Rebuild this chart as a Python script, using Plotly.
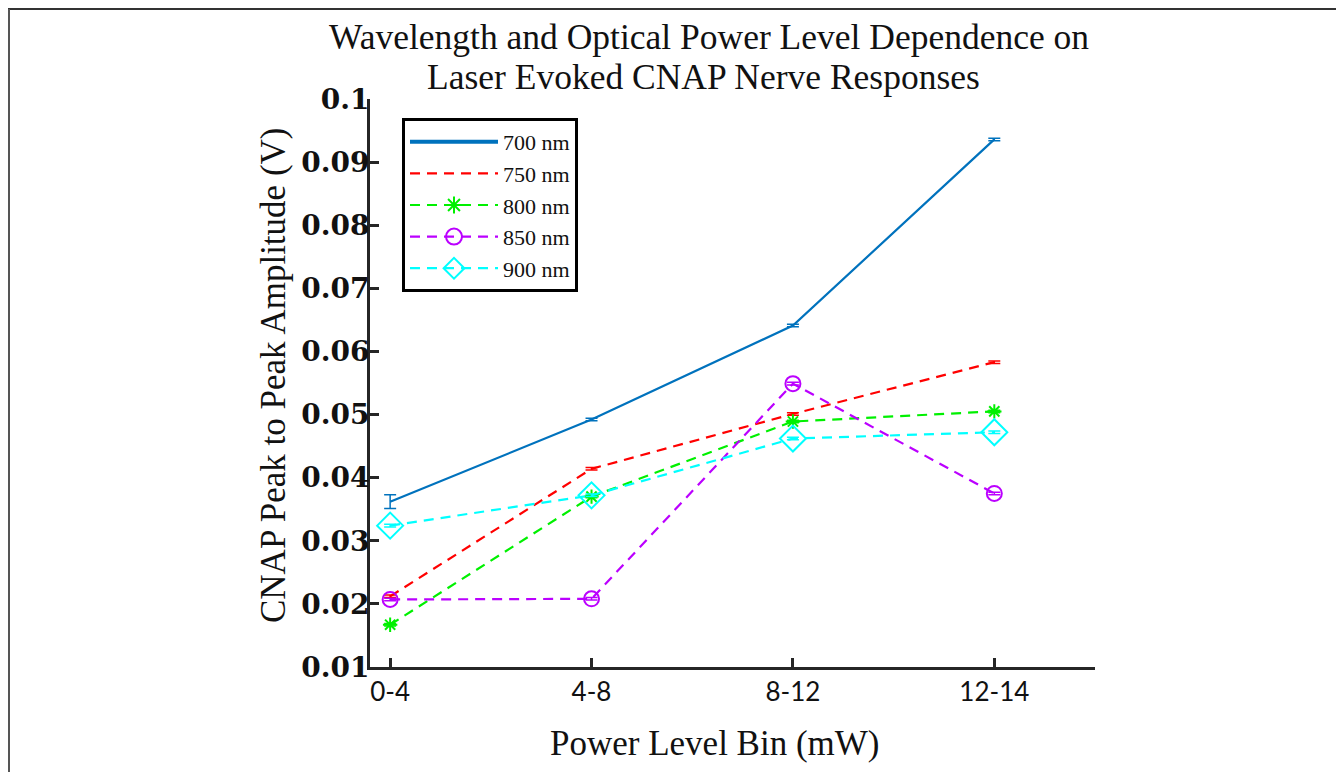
import plotly.graph_objects as go

bins = ["0-4", "4-8", "8-12", "12-14"]
series_names = ["700 nm", "750 nm", "800 nm", "850 nm", "900 nm"]
v700 = [0.0362, 0.0492, 0.0641, 0.0936]
v750 = [0.0212, 0.0414, 0.0501, 0.0583]
v800 = [0.0167, 0.0370, 0.0489, 0.0505]
v850 = [0.0207, 0.0208, 0.0549, 0.0375]
v900 = [0.0324, 0.0372, 0.0462, 0.0472]
e700 = [0.0011, 0.0002, 0.0002, 0.0002]
e750 = [0.0002, 0.0002, 0.0002, 0.0002]
e800 = [0.0002, 0.0002, 0.0002, 0.0002]
e850 = [0.0002, 0.0002, 0.0002, 0.0002]
e900 = [0.0002, 0.0002, 0.0002, 0.0002]
y_ticks = [0.01, 0.02, 0.03, 0.04, 0.05, 0.06, 0.07, 0.08, 0.09, 0.1]
y_tick_text = ["0.01", "0.02", "0.03", "0.04", "0.05", "0.06", "0.07", "0.08", "0.09", "0.1"]
title_lines = ["Wavelength and Optical Power Level Dependence on", "Laser Evoked CNAP Nerve Responses"]
x_title = "Power Level Bin (mW)"
y_title = "CNAP Peak to Peak Amplitude (V)"

W, H = 1344, 772
OFF = 8  # page body margin
ML, MR, MT, MB = 362, 257, 91, 113
PW, PH = W - ML - MR, H - MT - MB
AX = "#262626"
TXT = "#111111"


def sx(p):
    return (p - OFF - ML) / PW


def sy(p):
    return (H - MB - (p - OFF)) / PH


xs = list(range(len(bins)))
styles = [
    (v700, e700, "#0072BD", "solid", None, 0, 4),
    (v750, e750, "#FF0000", "10px,7px", None, 0, 2.2),
    (v800, e800, "#00F000", "10px,7px", "asterisk-open", 12, 2.2),
    (v850, e850, "#BB00FF", "10px,7px", "circle-open", 15, 2.2),
    (v900, e900, "#00FFFF", "10px,7px", "diamond-open", 20, 2.2),
]

fig = go.Figure()
for name, (vals, errs, col, dash, sym, size, lw) in zip(series_names, styles):
    mode = "lines+markers" if sym else "lines"
    kw = {}
    if sym:
        kw["marker"] = dict(symbol=sym, size=size, color=col, line=dict(color=col, width=2))
    fig.add_trace(go.Scatter(
        x=xs, y=vals, name=name, mode=mode, legendgroup=name, showlegend=False,
        line=dict(color=col, width=2.2, dash=dash),
        error_y=dict(type="data", array=errs, visible=True, color=col, thickness=1.5, width=6),
        **kw,
    ))
    # legend-only entry (styled like the reference legend)
    lkw = {}
    if sym:
        lkw["marker"] = dict(symbol=sym, size=size + 2, color=col, line=dict(color=col, width=2))
    fig.add_trace(go.Scatter(
        x=[None], y=[None], name=name, mode=mode, legendgroup=name, showlegend=True,
        line=dict(color=col, width=lw, dash=dash), **lkw,
    ))

shapes = [
    dict(type="line", xref="paper", yref="paper", x0=sx(8), x1=sx(1341), y0=sy(9), y1=sy(9),
         line=dict(color="#333333", width=2)),
    dict(type="line", xref="paper", yref="paper", x0=sx(9), x1=sx(9), y0=sy(9), y1=sy(800),
         line=dict(color="#555555", width=2)),
    dict(type="line", xref="paper", yref="paper", x0=sx(1340), x1=sx(1340), y0=sy(9), y1=sy(800),
         line=dict(color="#333333", width=2)),
]

annotations = [
    dict(text=title_lines[0], xref="paper", yref="paper", x=sx(709), y=sy(37),
         xanchor="center", yanchor="middle", showarrow=False,
         font=dict(family="Liberation Serif", size=35.5, color=TXT)),
    dict(text=title_lines[1], xref="paper", yref="paper", x=sx(703), y=sy(77),
         xanchor="center", yanchor="middle", showarrow=False,
         font=dict(family="Liberation Serif", size=35.5, color=TXT)),
    dict(text=x_title, xref="paper", yref="paper", x=sx(715), y=sy(743),
         xanchor="center", yanchor="middle", showarrow=False,
         font=dict(family="Liberation Serif", size=35, color=TXT)),
    dict(text=y_title, xref="paper", yref="paper", x=sx(273), y=sy(376),
         xanchor="center", yanchor="middle", showarrow=False, textangle=-90,
         font=dict(family="Liberation Serif", size=35, color=TXT)),
]

fig.update_layout(
    width=W, height=H,
    margin=dict(l=ML, r=MR, t=MT, b=MB),
    paper_bgcolor="white", plot_bgcolor="white",
    shapes=shapes, annotations=annotations,
    legend=dict(
        x=sx(402), y=sy(118), xanchor="left", yanchor="top",
        bordercolor="#000000", borderwidth=3, bgcolor="white",
        font=dict(family="Liberation Serif", size=22, color=TXT),
        itemwidth=88, tracegroupgap=0,
    ),
    showlegend=True,
)

fig.update_xaxes(
    range=[-0.1, 3.5], tickvals=xs, ticktext=bins,
    showline=True, linecolor=AX, linewidth=3, mirror=False,
    ticks="inside", ticklen=9, tickwidth=3, tickcolor=AX,
    showgrid=False, zeroline=False,
    tickfont=dict(family="Lato", size=26, color=TXT),
)
fig.update_yaxes(
    range=[0.01, 0.1], tickvals=y_ticks, ticktext=y_tick_text,
    showline=True, linecolor=AX, linewidth=3, mirror=False,
    ticks="inside", ticklen=9, tickwidth=3, tickcolor=AX,
    showgrid=False, zeroline=False, ticklabelstandoff=-8,
    tickfont=dict(family="DejaVu Serif", size=28, color=TXT, weight="bold"),
)

fig.write_html("out.html")
